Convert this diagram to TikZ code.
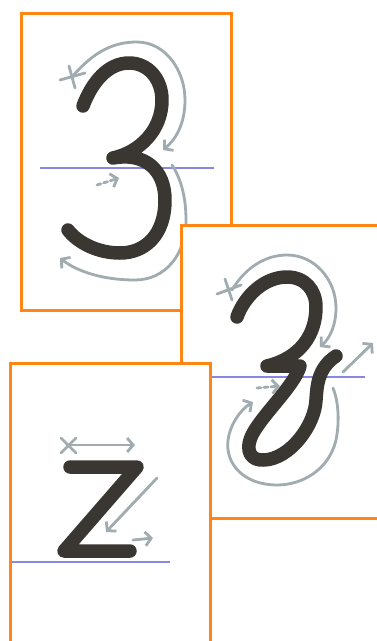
\documentclass[tikz,border=0pt]{standalone}
\usepackage{tikz}
\usetikzlibrary{arrows.meta}
\definecolor{inkc}{RGB}{58,54,50}
\definecolor{guidec}{RGB}{160,172,176}
\definecolor{basec}{RGB}{135,135,228}
\definecolor{framec}{RGB}{255,133,20}
\tikzset{
  >={Straight Barb[length=6pt,width=14pt]},
  card/.style={draw=framec,fill=white,line width=3pt},
  glyph/.style={draw=inkc,line width=13.5pt,line cap=round,line join=round},
  guide/.style={draw=guidec,line width=2.8pt,line cap=round},
  dashguide/.style={guide,dash pattern=on 4pt off 3pt},
  baseline/.style={draw=basec,line width=1.3pt}
}

\begin{document}
\begin{tikzpicture}[x=1pt,y=-1pt]
  \useasboundingbox (0,0) rectangle (377,641);
  \clip (0,0) rectangle (377,641);

  % ---- plain three ----
  \begin{scope}
    \draw[card] (21,13) rectangle (231,310);
    \draw[baseline] (40,168) -- (214,168);
    \draw[glyph] (83,106) .. controls (92,82) and (108,63) .. (129,63)
      .. controls (149,63) and (162,80) .. (162,100)
      .. controls (162,130) and (140,152) .. (113,158)
      .. controls (145,152) and (165,170) .. (165,200)
      .. controls (165,235) and (145,253) .. (120,253)
      .. controls (98,253) and (78,243) .. (68,230);
    \coordinate (p1x) at (72,77);
    \draw[guide] (60,80) -- (85,73) (69,66) -- (75,88);
    \draw[guide,->] (p1x) .. controls (95,50) and (115,42) .. (137,42)
      .. controls (165,42) and (185,70) .. (185,100)
      .. controls (185,125) and (175,140) .. (163,150);
    \draw[dashguide,->] (97,185) -- (119,178);
    \draw[guide,->] (172,165) .. controls (182,180) and (186,200) .. (186,220)
      .. controls (186,255) and (165,280) .. (135,280)
      .. controls (100,280) and (75,270) .. (60,258);
  \end{scope}

  % ---- looped three ----
  \begin{scope}
    \draw[card] (181,225) rectangle (395,518);
    \draw[baseline] (205,377) -- (365,377);
    \draw[glyph] (237,317) .. controls (245,295) and (265,277) .. (287,277)
      .. controls (305,277) and (316,290) .. (316,307)
      .. controls (316,335) and (300,358) .. (267,366)
      -- (300,366)
      .. controls (295,385) and (262,415) .. (252,435)
      .. controls (244,452) and (252,461) .. (264,460)
      .. controls (290,459) and (315,425) .. (316,400)
      .. controls (317,385) and (318,368) .. (336,356);
    \coordinate (p2x) at (232,290);
    \draw[guide] (217,294) -- (241,285) (225,279) -- (232,300);
    \draw[guide,->] (p2x) .. controls (245,268) and (265,255) .. (287,255)
      .. controls (315,255) and (336,280) .. (336,308)
      .. controls (336,325) and (330,338) .. (320,347);
    \draw[guide,->] (343,372) -- (373,343);
    \draw[dashguide,->] (257,388) -- (280,386);
    \draw[guide,->] (333,388) .. controls (338,400) and (340,420) .. (336,440)
      .. controls (329,470) and (302,485) .. (277,485)
      .. controls (245,485) and (225,465) .. (228,440)
      .. controls (230,425) and (240,410) .. (253,402);
  \end{scope}

  % ---- zed ----
  \begin{scope}
    \draw[card] (10,363) rectangle (210,660);
    \draw[baseline] (12,562) -- (170,562);
    \draw[glyph] (70,467) -- (137,467) -- (64,551) -- (130,551);
    \coordinate (p3x) at (68,445);
    \draw[guide] (61,438) -- (76,453) (61,453) -- (76,438);
    \draw[guide,->] (p3x) -- (135,445);
    \draw[guide,->] (157,478) -- (106,532);
    \draw[guide,->] (133,540) -- (153,538);
  \end{scope}
\end{tikzpicture}
\end{document}
